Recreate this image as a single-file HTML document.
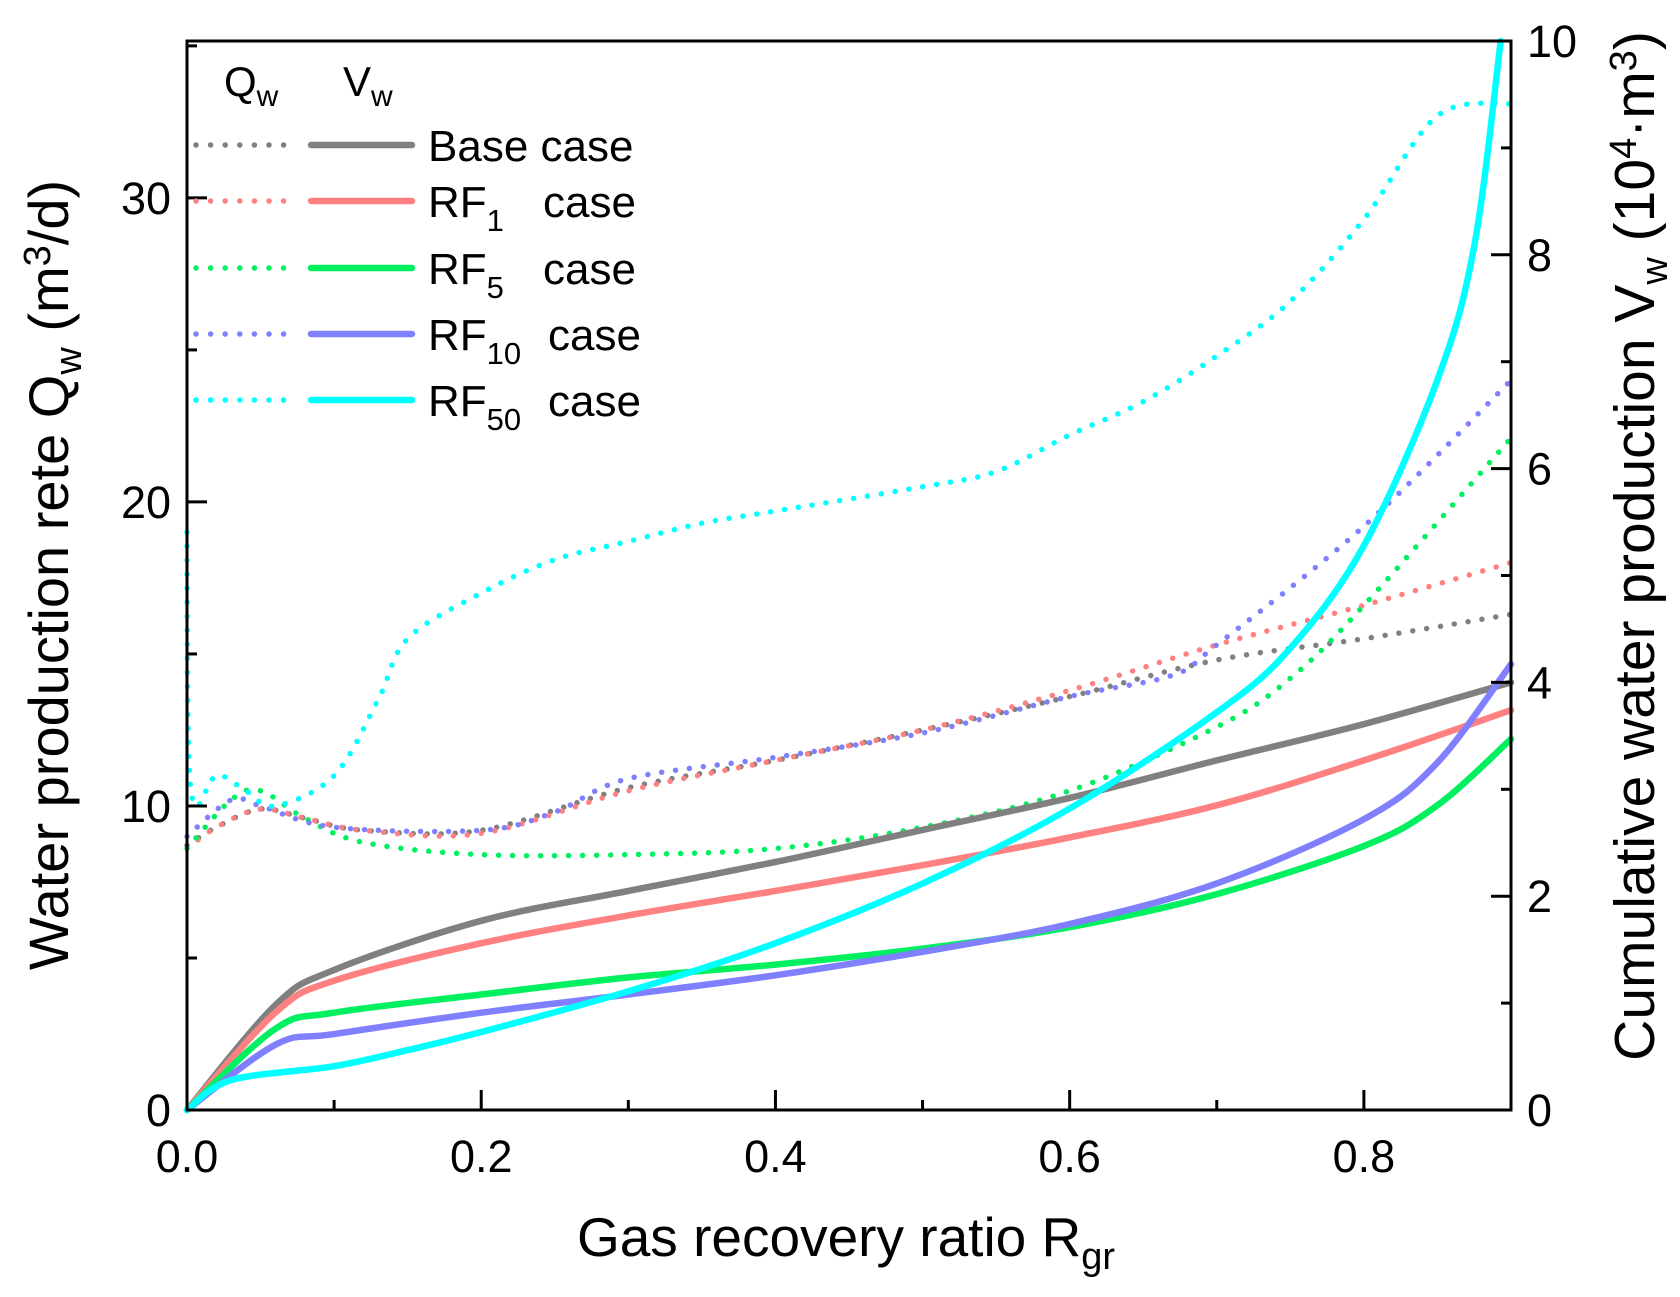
<!DOCTYPE html>
<html><head><meta charset="utf-8"><style>
html,body{margin:0;padding:0;background:#fff}
svg{display:block;font-family:"Liberation Sans",Arial,sans-serif}
</style></head><body>
<svg id="chart" width="1680" height="1297" viewBox="0 0 1680 1297" xmlns="http://www.w3.org/2000/svg">
<g id="marks"></g>
<g id="axes"></g>
<g id="legend"></g>
</svg>
<script>
// ---- data ----
const xTicks = [0.0, 0.2, 0.4, 0.6, 0.8];
const xTickLabels = ["0.0", "0.2", "0.4", "0.6", "0.8"];
const yLeftTicks = [0, 10, 20, 30];
const yRightTicks = [0, 2, 4, 6, 8, 10];

const vBaseX = [0, 0.06, 0.1, 0.2, 0.3, 0.4, 0.5, 0.6, 0.7, 0.8, 0.9];
const vBase  = [0, 0.98, 1.31, 1.77, 2.05, 2.32, 2.62, 2.92, 3.27, 3.61, 4.0];
const vRF1   = [0, 0.91, 1.21, 1.56, 1.82, 2.05, 2.29, 2.55, 2.85, 3.27, 3.74];
const vRF5X  = [0, 0.06, 0.1, 0.2, 0.3, 0.4, 0.5, 0.6, 0.7, 0.8, 0.85, 0.9];
const vRF5   = [0, 0.76, 0.91, 1.08, 1.24, 1.36, 1.51, 1.71, 2.02, 2.47, 2.85, 3.47];
const vRF10  = [0, 0.61, 0.71, 0.91, 1.08, 1.26, 1.48, 1.74, 2.12, 2.72, 3.25, 4.17];
const vRF50X = [0, 0.03, 0.1, 0.15, 0.2, 0.3, 0.4, 0.5, 0.6, 0.7, 0.75, 0.8, 0.85, 0.875, 0.893];
const vRF50  = [0, 0.28, 0.41, 0.56, 0.73, 1.11, 1.56, 2.12, 2.82, 3.72, 4.32, 5.28, 6.83, 8.08, 10.0];

const qX    = [0, 0.02, 0.05, 0.08, 0.12, 0.2, 0.3, 0.4, 0.5, 0.6, 0.7, 0.8, 0.9];
const qBase = [8.7, 9.3, 9.9, 9.6, 9.2, 9.2, 10.6, 11.5, 12.5, 13.6, 14.8, 15.5, 16.3];
const qRF1  = [8.6, 9.3, 9.9, 9.6, 9.2, 9.1, 10.5, 11.5, 12.5, 13.8, 15.3, 16.6, 18.0];
const qRF10X = [0, 0.03, 0.05, 0.1, 0.2, 0.25, 0.3, 0.4, 0.5, 0.6, 0.67, 0.7, 0.8, 0.9];
const qRF10  = [9.0, 10.2, 10.0, 9.3, 9.2, 9.8, 10.9, 11.6, 12.4, 13.6, 14.3, 15.3, 19.2, 24.0];
const qRF5X = [0, 0.03, 0.05, 0.08, 0.12, 0.2, 0.3, 0.4, 0.5, 0.6, 0.7, 0.75, 0.8, 0.9];
const qRF5  = [8.6, 10.2, 10.5, 9.6, 8.8, 8.4, 8.4, 8.6, 9.3, 10.5, 12.6, 14.2, 16.6, 22.1];
const qRF50X = [0, 0.001, 0.006, 0.02, 0.04, 0.06, 0.1, 0.13, 0.15, 0.2, 0.25, 0.3, 0.35, 0.4, 0.5, 0.55, 0.6, 0.65, 0.7, 0.75, 0.8, 0.85, 0.9];
const qRF50  = [19.0, 12, 10.0, 11.0, 10.5, 10.0, 11.0, 13.5, 15.5, 17.0, 18.1, 18.7, 19.3, 19.7, 20.5, 21.0, 22.2, 23.3, 24.8, 26.6, 29.3, 32.7, 33.1];

// ---- layout ----
const L = 187, R = 1511, T = 41, B = 1110;
const XMAX = 0.9, YLMAX = 35.16, YRMAX = 10;
const sx = v => L + (R - L) * v / XMAX;
const syL = v => B - (B - T) * v / YLMAX;
const syR = v => B - (B - T) * v / YRMAX;
const NS = "http://www.w3.org/2000/svg";
function mk(tag, attrs, parent) {
  const e = document.createElementNS(NS, tag);
  for (const k in attrs) e.setAttribute(k, attrs[k]);
  parent.appendChild(e);
  return e;
}
function smoothPath(xs, ys, fy) {
  const p = xs.map((x, i) => [sx(x), fy(ys[i])]);
  let d = "M" + p[0][0].toFixed(1) + "," + p[0][1].toFixed(1);
  for (let i = 0; i < p.length - 1; i++) {
    const p0 = p[Math.max(0, i - 1)], p1 = p[i], p2 = p[i + 1], p3 = p[Math.min(p.length - 1, i + 2)];
    const c1 = [p1[0] + (p2[0] - p0[0]) / 6, p1[1] + (p2[1] - p0[1]) / 6];
    const c2 = [p2[0] - (p3[0] - p1[0]) / 6, p2[1] - (p3[1] - p1[1]) / 6];
    d += "C" + c1.map(v => v.toFixed(1)).join(",") + " " + c2.map(v => v.toFixed(1)).join(",") + " " + p2[0].toFixed(1) + "," + p2[1].toFixed(1);
  }
  return d;
}
const marks = document.getElementById("marks");
const axes = document.getElementById("axes");
const C = {base: "#808080", rf1: "#ff8080", rf5: "#00f060", rf10: "#8080ff", rf50: "#00ffff"};

const dotted = [
  ["qw-base", qX, qBase, C.base], ["qw-rf1", qX, qRF1, C.rf1], ["qw-rf5", qRF5X, qRF5, C.rf5],
  ["qw-rf10", qRF10X, qRF10, C.rf10], ["qw-rf50", qRF50X, qRF50, C.rf50]
];
dotted.forEach(s => {
  const el = mk("path", {d: smoothPath(s[1], s[2], syL), fill: "none", stroke: s[3], "stroke-width": 5.5, "stroke-linecap": "round", "stroke-dasharray": "0 14"}, marks);
  
  
});
const solid = [
  ["vw-base", vBaseX, vBase, C.base], ["vw-rf1", vBaseX, vRF1, C.rf1], ["vw-rf5", vRF5X, vRF5, C.rf5],
  ["vw-rf10", vRF5X, vRF10, C.rf10], ["vw-rf50", vRF50X, vRF50, C.rf50]
];
solid.forEach(s => {
  const el = mk("path", {d: smoothPath(s[1], s[2], syR), fill: "none", stroke: s[3], "stroke-width": 6.5, "stroke-linecap": "round", "stroke-linejoin": "round"}, marks);
  
  
});

const fr = mk("path", {d: `M${L},${T}H${R}V${B}H${L}Z`, fill: "none", stroke: "#000", "stroke-width": 3}, axes);


for (let v = 0; v <= 0.9001; v += 0.1) {
  const major = Math.round(v * 10) % 2 === 0;
  const t = mk("line", {x1: sx(v), x2: sx(v), y1: B, y2: B - (major ? 20 : 10), stroke: "#000", "stroke-width": 3}, axes);
  
  
}
xTicks.forEach((v, i) => {
  const t = mk("text", {x: sx(v), y: B + 62, "text-anchor": "middle", "font-size": 45}, axes);
  t.textContent = xTickLabels[i];
  
  
});
for (let v = 0; v <= YLMAX; v += 5) {
  const major = v % 10 === 0;
  const t = mk("line", {x1: L, x2: L + (major ? 20 : 10), y1: syL(v), y2: syL(v), stroke: "#000", "stroke-width": 3}, axes);
  
  
}
yLeftTicks.forEach(v => {
  const t = mk("text", {x: L - 16, y: syL(v) + 16, "text-anchor": "end", "font-size": 45}, axes);
  t.textContent = v;
  
  
});
for (let v = 0; v <= 10; v += 1) {
  const major = v % 2 === 0;
  const t = mk("line", {x1: R, x2: R - (major ? 20 : 10), y1: syR(v), y2: syR(v), stroke: "#000", "stroke-width": 3}, axes);
  
  
}
yRightTicks.forEach(v => {
  const t = mk("text", {x: R + 16, y: syR(v) + 16, "text-anchor": "start", "font-size": 45}, axes);
  t.textContent = v;
  
  
});
</script>
<script>
(function(){
  const NS = "http://www.w3.org/2000/svg";
  const axes = document.getElementById("axes");
  const legend = document.getElementById("legend");
  const wrap = document.createElementNS(NS, "g");
  wrap.innerHTML =
    '<text x="846" y="1256" text-anchor="middle" font-size="55">Gas recovery ratio R<tspan font-size="38" dy="13">gr</tspan></text>' +
    '<text transform="translate(68,575) rotate(-90)" text-anchor="middle" font-size="56">Water production rete Q<tspan font-size="38" dy="13">w</tspan><tspan dy="-13"> (m</tspan><tspan font-size="38" dy="-18">3</tspan><tspan dy="18">/d)</tspan></text>' +
    '<text transform="translate(1654,546) rotate(-90)" text-anchor="middle" font-size="57">Cumulative water production V<tspan font-size="38" dy="13">w</tspan><tspan dy="-13"> (10</tspan><tspan font-size="38" dy="-18">4</tspan><tspan dy="18">·m</tspan><tspan font-size="38" dy="-18">3</tspan><tspan dy="18">)</tspan></text>';
  axes.appendChild(wrap);
  const rows = [["Base case","", "#808080"],["RF","1","#ff8080"],["RF","5","#00f060"],["RF","10","#8080ff"],["RF","50","#00ffff"]];
  const ys = [145, 201, 268, 334, 400];
  let h = '<text x="224" y="96" font-size="42">Q<tspan font-size="30" dy="10">w</tspan></text>' +
          '<text x="343" y="96" font-size="42">V<tspan font-size="30" dy="10">w</tspan></text>';
  rows.forEach((r, i) => {
    const y = ys[i];
    h += '<g>' +
      '<line x1="196" x2="286" y1="'+y+'" y2="'+y+'" stroke="'+r[2]+'" stroke-width="5.5" stroke-linecap="round" stroke-dasharray="0 14.6"/>' +
      '<line x1="311" x2="412" y1="'+y+'" y2="'+y+'" stroke="'+r[2]+'" stroke-width="6.5" stroke-linecap="round"/>';
    if (r[1] === "") {
      h += '<text x="428" y="'+(y+16)+'" font-size="44">Base case</text>';
    } else {
      h += '<text x="428" y="'+(y+16)+'" font-size="44">RF<tspan font-size="31" dy="14">'+r[1]+'</tspan></text>' +
           '<text x="'+(r[1].length>1?548:543)+'" y="'+(y+16)+'" font-size="44">case</text>';
    }
    h += '</g>';
  });
  legend.innerHTML = h;
})();
</script>
</body></html>
